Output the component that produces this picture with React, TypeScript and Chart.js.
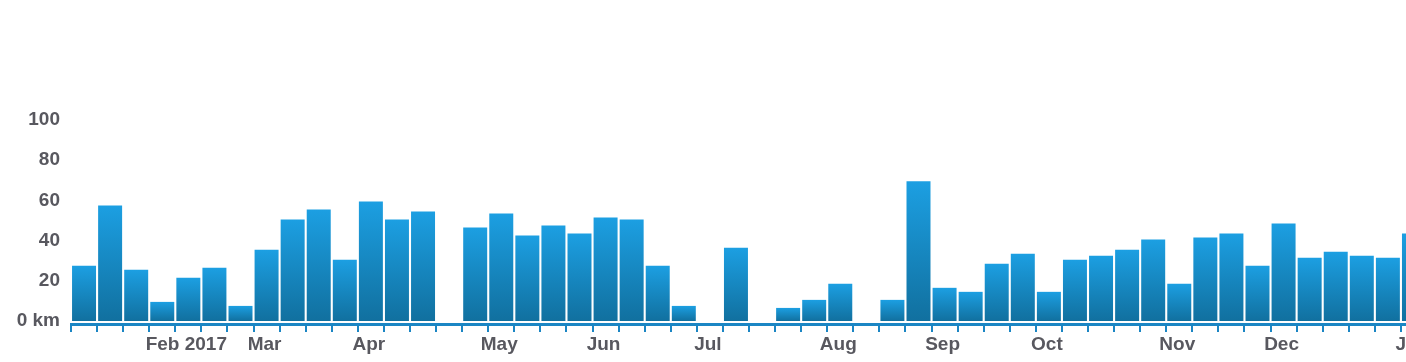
import React, { useEffect, useRef } from "react";
import { Chart, registerables } from "chart.js";

Chart.register(...registerables);

// Weekly distance (km), one bar per week, starting early Jan 2017
const weekLabels: string[] = [
  "", "", "", "", "Feb 2017", "", "", "Mar", "", "", "", "Apr", "", "",
  "", "", "May", "", "", "", "Jun", "", "", "", "Jul", "", "",
  "", "", "Aug", "", "", "", "Sep", "", "", "", "Oct", "", "",
  "", "", "Nov", "", "", "", "Dec", "", "", "", "", "Jan",
];

const weeklyKm: number[] = [
  27.5, 57.5, 25.5, 9.5, 21.5, 26.5, 7.5, 35.5, 50.5, 55.5, 30.5, 59.5, 50.5, 54.5,
  0, 46.5, 53.5, 42.5, 47.5, 43.5, 51.5, 50.5, 27.5, 7.5, 0, 36.5, 0,
  6.5, 10.5, 18.5, 0, 10.5, 69.5, 16.5, 14.5, 28.5, 33.5, 14.5, 30.5, 32.5,
  35.5, 40.5, 18.5, 41.5, 43.5, 27.5, 48.5, 31.5, 34.5, 32.5, 31.5, 43.5,
];

const yTickValues: number[] = [0, 20, 40, 60, 80, 100];

const BAR_TOP = "#1c9fe2";
const BAR_BOTTOM = "#11709f";
const AXIS_BLUE = "#1b86c4";
const TEXT = "#58585f";

export default function App() {
  const canvasRef = useRef<HTMLCanvasElement | null>(null);

  useEffect(() => {
    if (!canvasRef.current) return;
    const font = { family: "'Liberation Sans', Arial, sans-serif", size: 19, weight: "bold" as const };
    const chart = new Chart(canvasRef.current, {
      type: "bar",
      data: {
        labels: weekLabels,
        datasets: [
          {
            data: weeklyKm,
            barPercentage: 0.92,
            categoryPercentage: 1,
            borderWidth: 0,
            backgroundColor: (ctx: any) => {
              const c = ctx.chart;
              const area = c.chartArea;
              if (!area || ctx.type !== "data") return BAR_TOP;
              const ys = c.scales.y;
              const top = ys.getPixelForValue(ctx.raw);
              const bottom = ys.getPixelForValue(0);
              if (!isFinite(top) || !isFinite(bottom) || bottom - top < 1) return BAR_TOP;
              const g = c.ctx.createLinearGradient(0, top, 0, bottom);
              g.addColorStop(0, BAR_TOP);
              g.addColorStop(1, BAR_BOTTOM);
              return g;
            },
          },
        ],
      },
      options: {
        animation: false,
        responsive: false,
        events: [],
        layout: { padding: { top: 120, right: 10, left: 0, bottom: 0 } },
        plugins: { legend: { display: false }, tooltip: { enabled: false } },
        scales: {
          x: {
            offset: true,
            grid: {
              display: true,
              drawOnChartArea: false,
              drawTicks: true,
              tickLength: 8,
              offset: true,
              color: AXIS_BLUE,
              lineWidth: 2,
            },
            border: { display: true, color: AXIS_BLUE, width: 3 },
            ticks: {
              autoSkip: false,
              maxRotation: 0,
              minRotation: 0,
              padding: 1,
              labelOffset: -2,
              color: TEXT,
              font,
            },
            afterFit: (scale: any) => {
              scale.height = 38;
            },
          },
          y: {
            min: -1.5,
            max: 100,
            grid: { display: false, drawTicks: false },
            border: { display: false },
            afterBuildTicks: (scale: any) => {
              scale.ticks = yTickValues.map((v) => ({ value: v }));
            },
            ticks: {
              padding: 11,
              color: TEXT,
              font,
              callback: (v: any) => (Number(v) === 0 ? "0 km" : String(v)),
            },
            afterFit: (scale: any) => {
              scale.width = 71;
            },
          },
        },
      },
    });
    return () => chart.destroy();
  }, []);

  return (
    <div
      style={{
        position: "absolute",
        left: 0,
        top: 0,
        width: 1406,
        height: 362,
        overflow: "hidden",
        background: "#fff",
      }}
    >
      <canvas ref={canvasRef} width={1437} height={362} style={{ display: "block" }} />
    </div>
  );
}
